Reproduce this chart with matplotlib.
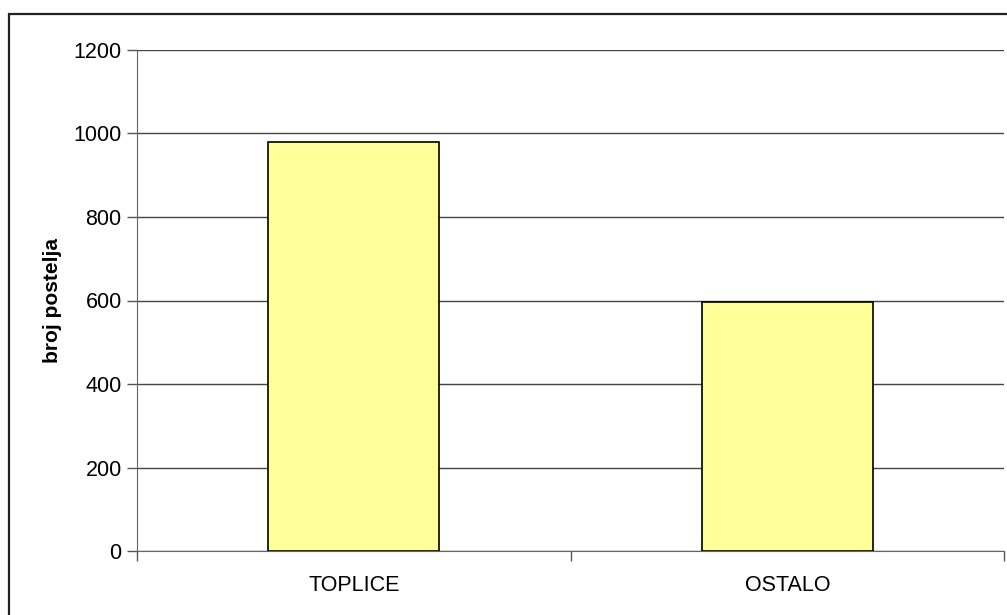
import matplotlib.pyplot as plt
from matplotlib.patches import Rectangle

categories = ['TOPLICE', 'OSTALO']
values = [980, 596]
yticks = [0, 200, 400, 600, 800, 1000, 1200]

plt.rcParams['font.family'] = ['Liberation Sans', 'DejaVu Sans']

W, H = 1007, 615
fig = plt.figure(figsize=(W / 100, H / 100), dpi=100)

# okvir grafikona (desni i donji rub su izvan slike)
fig.patches.append(Rectangle((9 / W, -0.1), 1.2, 1 - 14 / H + 0.1,
                             transform=fig.transFigure, fill=False,
                             edgecolor='#222222', linewidth=1.6))

ax = fig.add_axes([137 / W, (H - 551) / H, (1004 - 137) / W, (551 - 50) / H])
x = list(range(len(categories)))
ax.bar(x, values, width=0.395, color='#FFFF99', edgecolor='black',
       linewidth=1.2, zorder=3)

ax.set_xlim(-0.5, len(categories) - 0.5)
ax.set_ylim(0, 1200)
ax.set_yticks(yticks)
ax.set_yticklabels([str(v) for v in yticks], fontsize=15.5)
ax.yaxis.grid(True, color='#444444', linewidth=1.0, zorder=0)
ax.set_axisbelow(True)

ax.set_xticks(x)
ax.set_xticklabels(categories, fontsize=15.5)
ax.tick_params(axis='x', length=0, pad=17)
ax.set_xticks([-0.5, 0.5, 1.5], minor=True)
ax.tick_params(axis='x', which='minor', length=7, color='#555555', width=1)
ax.tick_params(axis='y', length=7, color='#555555', width=1, pad=4)

for s in ['top', 'right']:
    ax.spines[s].set_visible(False)
ax.spines['left'].set_color('#666666')
ax.spines['bottom'].set_color('#666666')

ax.set_ylabel('broj postelja', fontsize=15, fontweight='bold', labelpad=8)

fig.savefig('out.png', dpi=100)
